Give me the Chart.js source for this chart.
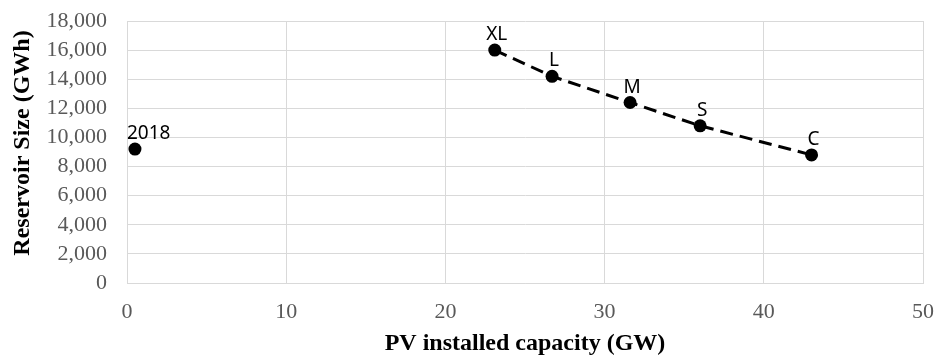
<!DOCTYPE html>
<html>
<head>
<meta charset="utf-8">
<script src="https://cdn.jsdelivr.net/npm/chart.js@4/dist/chart.umd.min.js"></script>
<style>
  html, body { margin: 0; padding: 0; background: #ffffff; }
  #wrap { width: 935px; height: 358px; position: relative; }
</style>
</head>
<body>
<div id="wrap"><canvas id="chart"></canvas></div>
<script>
// Reservoir size needed for each PV build-out scenario
const scenarioNames = ['XL', 'L', 'M', 'S', 'C'];
const scenarioPV = [23.1, 26.7, 31.6, 36.0, 43.0];          // GW
const scenarioReservoir = [16000, 14200, 12400, 10800, 8800]; // GWh

// Reference year
const baseNames = ['2018'];
const basePV = [0.5];
const baseReservoir = [9200];

// Axis ranges and steps
const xMin = 0, xMax = 50, xStep = 10;
const yMin = 0, yMax = 18000, yStep = 2000;

const toPoints = (xs, ys) => xs.map((x, i) => ({ x: x, y: ys[i] }));

// Writes each point's name just above its marker
const pointNames = {
  id: 'pointNames',
  afterDatasetsDraw(chart) {
    const ctx = chart.ctx;
    const area = chart.chartArea;
    ctx.save();
    ctx.font = '19px "Noto Sans", "Open Sans", sans-serif';
    ctx.fillStyle = '#000000';
    ctx.textBaseline = 'alphabetic';
    chart.data.datasets.forEach((ds, di) => {
      const meta = chart.getDatasetMeta(di);
      meta.data.forEach((pt, i) => {
        const text = ds.names[i];
        const w = ctx.measureText(text).width;
        let left = pt.x - w / 2 + 2;
        if (left < area.left) left = area.left;
        ctx.textAlign = 'left';
        ctx.fillText(text, left, pt.y - 10);
      });
    });
    ctx.restore();
  }
};

// Vertical title of the value axis, set slightly above the middle of the plot
const yAxisTitle = {
  id: 'yAxisTitle',
  afterDraw(chart) {
    const ctx = chart.ctx;
    const area = chart.chartArea;
    ctx.save();
    ctx.font = 'bold 24px "Liberation Serif", "Times New Roman", serif';
    ctx.fillStyle = '#000000';
    ctx.textAlign = 'center';
    ctx.textBaseline = 'middle';
    ctx.translate(23, (area.top + area.bottom) / 2 - 9);
    ctx.rotate(-Math.PI / 2);
    ctx.fillText('Reservoir Size (GWh)', 0, 0);
    ctx.restore();
  }
};

const tickFont = { family: '"Liberation Serif", "Times New Roman", serif', size: 22 };
const titleFont = { family: '"Liberation Serif", "Times New Roman", serif', size: 24, weight: 'bold' };

new Chart(document.getElementById('chart'), {
  type: 'scatter',
  data: {
    datasets: [
      {
        names: scenarioNames,
        data: toPoints(scenarioPV, scenarioReservoir),
        showLine: true,
        borderColor: '#000000',
        borderWidth: 3,
        borderDash: [13, 7],
        backgroundColor: '#000000',
        pointBackgroundColor: '#000000',
        pointBorderColor: '#000000',
        pointBorderWidth: 0,
        pointRadius: 6.5,
        pointHoverRadius: 6.5
      },
      {
        names: baseNames,
        data: toPoints(basePV, baseReservoir),
        showLine: false,
        backgroundColor: '#000000',
        pointBackgroundColor: '#000000',
        pointBorderColor: '#000000',
        pointBorderWidth: 0,
        pointRadius: 6.5,
        pointHoverRadius: 6.5
      }
    ]
  },
  options: {
    responsive: true,
    maintainAspectRatio: false,
    animation: false,
    layout: { padding: { top: 21, right: 12, left: 0, bottom: 0 } },
    plugins: {
      legend: { display: false },
      tooltip: { enabled: false }
    },
    scales: {
      x: {
        type: 'linear',
        min: xMin, max: xMax,
        ticks: { stepSize: xStep, autoSkip: false, maxRotation: 0, color: '#595959', font: tickFont, padding: 16 },
        grid: { color: '#d9d9d9', lineWidth: 1, drawTicks: false },
        border: { color: '#d9d9d9' },
        title: { display: true, text: 'PV installed capacity (GW)', color: '#000000', font: titleFont, padding: { top: 0, bottom: 0 } },
        afterFit(scale) {
          scale.height = 75;
          scale.paddingLeft = 0;
          scale.paddingRight = 0;
        }
      },
      y: {
        type: 'linear',
        min: yMin, max: yMax,
        ticks: {
          stepSize: yStep, autoSkip: false, color: '#595959', font: tickFont, padding: 20,
          callback: (v) => v.toLocaleString('en-US')
        },
        grid: { color: '#d9d9d9', lineWidth: 1, drawTicks: false },
        border: { color: '#d9d9d9' },
        title: { display: false },
        afterFit(scale) {
          scale.width = 127;
          scale.paddingTop = 0;
          scale.paddingBottom = 0;
        }
      }
    }
  },
  plugins: [pointNames, yAxisTitle]
});
</script>
</body>
</html>
